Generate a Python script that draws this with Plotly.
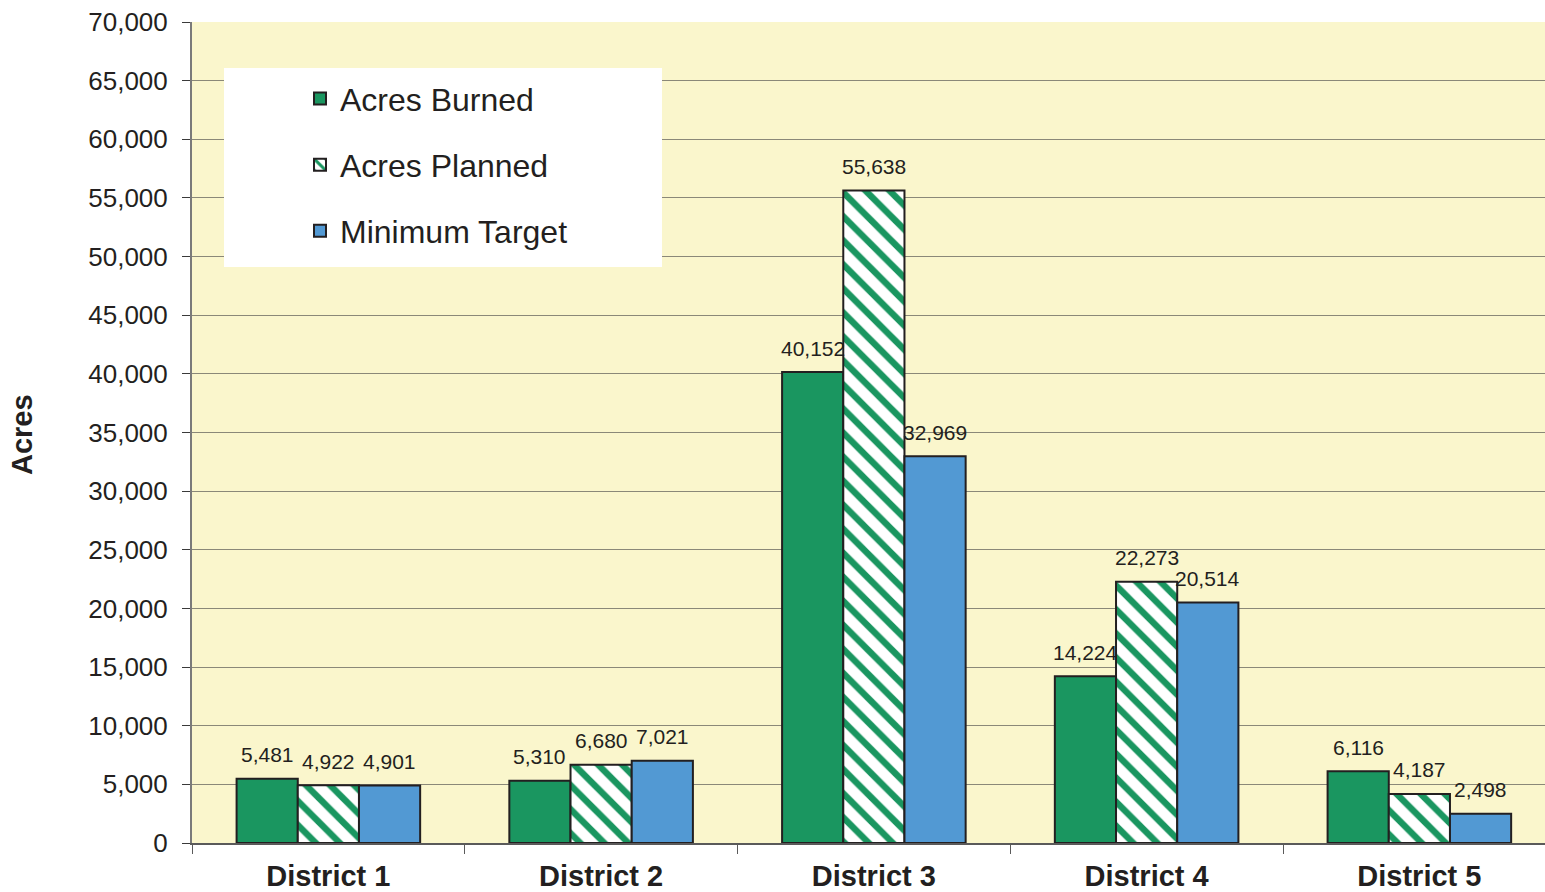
import plotly.graph_objects as go

districts = ["District 1", "District 2", "District 3", "District 4", "District 5"]
acres_burned = [5481, 5310, 40152, 14224, 6116]
acres_planned = [4922, 6680, 55638, 22273, 4187]
minimum_target = [4901, 7021, 32969, 20514, 2498]

GREEN = "#1A9660"
BLUE = "#5299D3"
BG = "#FAF6CC"
TXT = "#231F20"
FONT = "Liberation Sans, Arial, sans-serif"

W, H = 1545, 892
ML, MR, MT, MB = 192, 0, 22, 49
BARGAP = 0.327
X_RANGE = [-0.5, 4.4606]
plot_w = W - ML - MR
plot_h = H - MT - MB
cat_px = plot_w / (X_RANGE[1] - X_RANGE[0])
bar_px = cat_px * (1 - BARGAP) / 3

fig = go.Figure()
series = [
    ("Acres Burned", acres_burned,
     dict(color=GREEN, line=dict(color="#231F20", width=2))),
    ("Acres Planned", acres_planned,
     dict(color="white", line=dict(color="#231F20", width=2),
          pattern=dict(shape="\\", fgcolor=GREEN, bgcolor="white", fgopacity=1,
                       size=17, solidity=0.38, fillmode="replace"))),
    ("Minimum Target", minimum_target,
     dict(color=BLUE, line=dict(color="#231F20", width=2))),
]
annotations = []
for i, (name, vals, marker) in enumerate(series):
    fig.add_trace(go.Bar(x=districts, y=vals, name=name, marker=marker,
                         legendgroup=name, hoverinfo="x+y+name"))
    for d, v in zip(districts, vals):
        annotations.append(dict(
            x=d, y=v, xref="x", yref="y", text=f"{v:,}", showarrow=False,
            xshift=(i - 1) * bar_px, yshift=24, yanchor="middle", xanchor="center",
            font=dict(size=21, color=TXT, family=FONT),
        ))

annotations.append(dict(
    text="<b>Acres</b>", xref="paper", yref="paper",
    x=(22 - ML) / plot_w, y=(H - MB - 435) / plot_h,
    xanchor="center", yanchor="middle", textangle=-90, showarrow=False,
    font=dict(size=29, color=TXT, family=FONT),
))

fig.update_layout(
    width=W, height=H,
    margin=dict(l=ML, r=MR, t=MT, b=MB, autoexpand=False),
    paper_bgcolor="white",
    plot_bgcolor=BG,
    barmode="group",
    bargap=BARGAP,
    bargroupgap=0,
    font=dict(family=FONT, color=TXT),
    showlegend=True,
    legend=dict(
        x=(300 - ML) / plot_w, y=0.94, xanchor="left", yanchor="top",
        bgcolor="rgba(0,0,0,0)",
        font=dict(size=32, color=TXT, family=FONT),
        tracegroupgap=21.5,
        itemwidth=30,
    ),
    shapes=[dict(
        type="rect", xref="paper", yref="paper",
        x0=(224 - ML) / plot_w, x1=(662 - ML) / plot_w,
        y0=(H - MB - 267) / plot_h, y1=(H - MB - 68) / plot_h,
        fillcolor="white", line=dict(width=0), layer="above",
    )],
    annotations=annotations,
)
fig.update_xaxes(
    type="category", range=X_RANGE,
    tickfont=dict(size=29, color=TXT, family=FONT, weight="bold"),
    showline=True, linecolor="#5a5a5a", linewidth=1.5,
    ticks="outside", tickson="boundaries", ticklen=9, tickcolor="#5a5a5a",
    ticklabelstandoff=6,
    showgrid=False, automargin=False,
)
fig.update_yaxes(
    range=[0, 70000], dtick=5000, tickformat=",",
    tickfont=dict(size=26, color=TXT, family=FONT),
    showline=True, linecolor="#7a7a7a", linewidth=2,
    ticks="outside", ticklen=8, tickcolor="#3a3a3a",
    ticklabelstandoff=9,
    showgrid=True, gridcolor="#8a8878", gridwidth=1,
    zeroline=False, automargin=False,
)

fig.write_html("out.html", config={"displayModeBar": False},
               post_script="document.body.style.margin='0px';document.body.style.overflow='hidden';")
